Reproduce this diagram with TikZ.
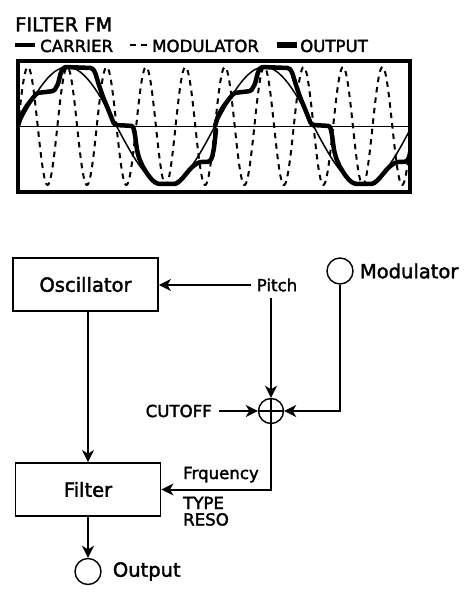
\documentclass[tikz,border=0pt]{standalone}
\usepackage{fontspec}
\setmainfont{DejaVu Sans}[FakeBold=2]
\usetikzlibrary{arrows.meta}
\usetikzlibrary{positioning}

\begin{document}
\begin{tikzpicture}[x=1pt,y=-1pt,
  big/.style={font=\fontsize{19.5}{22}\selectfont},
  small/.style={font=\fontsize{16.6}{19}\selectfont},
  block/.style={draw,line width=1.8pt,minimum width=145pt,minimum height=53pt,big},
  port/.style={draw,circle,line width=1.4pt,minimum size=26pt,inner sep=0pt},
  sig/.style={line width=2pt,>={Stealth[length=12pt,width=12pt,inset=3.5pt]}},
  outwave/.style={line width=4.5pt,line join=round,line cap=round,rounded corners=1.5pt}]

  \useasboundingbox (0,0) rectangle (473,601);

  % title and legend
  \node[big,anchor=base west,inner sep=0pt] (title) at (15,31.5) {FILTER FM};
  \draw[line width=3.5pt] (15,45) -- (35,45);
  \node[small,anchor=base west,inner sep=0pt] (lcar) at (40,52) {CARRIER};
  \draw[line width=2.2pt,dash pattern=on 6pt off 5pt] (130,45) -- (147,45);
  \node[small,anchor=base west,inner sep=0pt] (lmod) at (152,52) {MODULATOR};
  \draw[line width=5.5pt] (277,45) -- (297,45);
  \node[small,anchor=base west,inner sep=0pt] (lout) at (300,52) {OUTPUT};

  % waveforms
  \begin{scope}
    \clip (20,63.5) rectangle (408,190);
    \draw[line width=1.6pt] (20,126.5) -- (408,126.5);
    \draw[line width=1.5pt,domain=18:410,samples=120] plot (\x,{126-59*sin(1.82741*(\x-18))});
    \draw[line width=2pt,dash pattern=on 5.5pt off 5pt,domain=18:410,samples=400]
      plot (\x,{126-59*sin(9.13706*(\x-18))});
    % output, one period per shift
    \foreach \s in {0,197}
      \draw[outwave,xshift=\s] (18,126) -- (21,116) -- (26,107) -- (32,99) -- (37,93)
        -- (54,91) -- (58,84) -- (61,72) -- (64,67) -- (92,68) -- (95,72) -- (98,82)
        -- (99,85) -- (103,97) -- (108,109) -- (114,124) -- (116,125) -- (133,126)
        -- (135,135) -- (137,150) -- (139,158) -- (143,167) -- (148,175) -- (153,181)
        -- (158,184) -- (176,184) -- (181,180) -- (186,174) -- (191,168) -- (196,164)
        -- (200,162) -- (209,162) -- (212,158) -- (214,148) -- (216,130);
  \end{scope}
  \draw[line width=4pt] (18,61.5) rectangle (410,192);

  % blocks
  \node[block] (osc) at (85.5,284.5) {Oscillator};
  \node[block] (filt) at (88,489.5) {Filter};

  % inputs and outputs
  \node[small,inner sep=6pt] (pitch) at (277,285) {Pitch};
  \node[port] (modin) at (340,271) {};
  \node[big,right=6pt of modin,inner sep=0pt] (modlbl) {Modulator};
  \node[port,minimum size=25pt] (sum) at (271,411) {};
  \draw[line width=1.1pt] (sum.north) -- (sum.south) (sum.west) -- (sum.east);
  \node[small,anchor=east,inner sep=0pt,inner xsep=7pt] (cutoff) at (219,411) {CUTOFF};
  \node[small,anchor=base west,inner sep=0pt] (freq) at (183,479) {Frquency};
  \node[small,anchor=base west,inner sep=0pt] (type) at (183,509) {TYPE};
  \node[small,anchor=base west,inner sep=0pt] (reso) at (183,525.5) {RESO};
  \node[port] (outc) at (88,571.5) {};
  \node[big,right=11pt of outc,inner sep=0pt] (outlbl) {Output};

  % signal flow
  \draw[sig,->] (pitch.west) -- (osc.east |- pitch.west);
  \draw[sig,->] (sum |- pitch.south) -- (sum.north);
  \draw[sig,->] (modin.south) -- (modin |- sum) -- (sum.east);
  \draw[sig,->] (cutoff.east) -- (sum.west);
  \draw[sig,->] (filt.north |- osc.south) -- (filt.north);
  \draw[sig,->] (sum.south) -- (sum |- filt.east) -- (filt.east);
  \draw[sig,->] (filt.south) -- (outc.north);

\end{tikzpicture}
\end{document}
